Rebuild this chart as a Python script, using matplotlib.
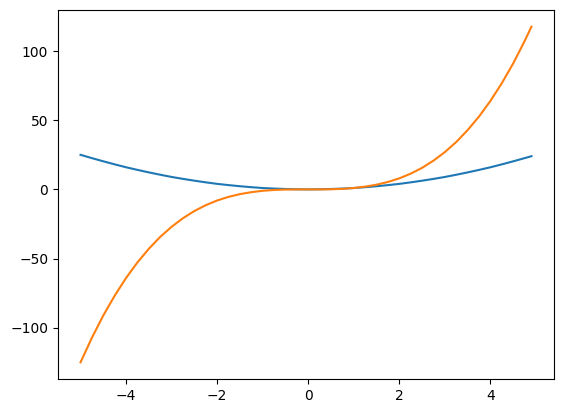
import matplotlib
matplotlib.use('Agg')
import matplotlib.pyplot as plt

# значения
x_vals = [-5.0, -4.75, -4.5, -4.25, -4.0, -3.75, -3.5, -3.25, -3.0, -2.75,
          -2.5, -2.25, -2.0, -1.75, -1.5, -1.25, -1.0, -0.75, -0.5, -0.25,
          0.0, 0.25, 0.5, 0.75, 1.0, 1.25, 1.5, 1.75, 2.0, 2.25,
          2.5, 2.75, 3.0, 3.25, 3.5, 3.75, 4.0, 4.25, 4.5, 4.75, 4.9]

blue_vals = [25.0, 22.6, 20.3, 18.1, 16.0, 14.1, 12.3, 10.6, 9.0, 7.6,
             6.3, 5.1, 4.0, 3.1, 2.3, 1.6, 1.0, 0.6, 0.3, 0.1,
             0.0, 0.1, 0.3, 0.6, 1.0, 1.6, 2.3, 3.1, 4.0, 5.1,
             6.3, 7.6, 9.0, 10.6, 12.3, 14.1, 16.0, 18.1, 20.3, 22.6, 24.0]

orange_vals = [-125.0, -107.2, -91.1, -76.8, -64.0, -52.7, -42.9, -34.3, -27.0, -20.8,
               -15.6, -11.4, -8.0, -5.4, -3.4, -2.0, -1.0, -0.4, -0.1, 0.0,
               0.0, 0.0, 0.1, 0.4, 1.0, 2.0, 3.4, 5.4, 8.0, 11.4,
               15.6, 20.8, 27.0, 34.3, 42.9, 52.7, 64.0, 76.8, 91.1, 107.2, 117.6]

fig, ax = plt.subplots(figsize=(5.63, 4.13), dpi=100)
ax.plot(x_vals, blue_vals)
ax.plot(x_vals, orange_vals)

plt.subplots_adjust(left=0.103, right=0.984, top=0.976, bottom=0.082)
plt.savefig('out.png')
